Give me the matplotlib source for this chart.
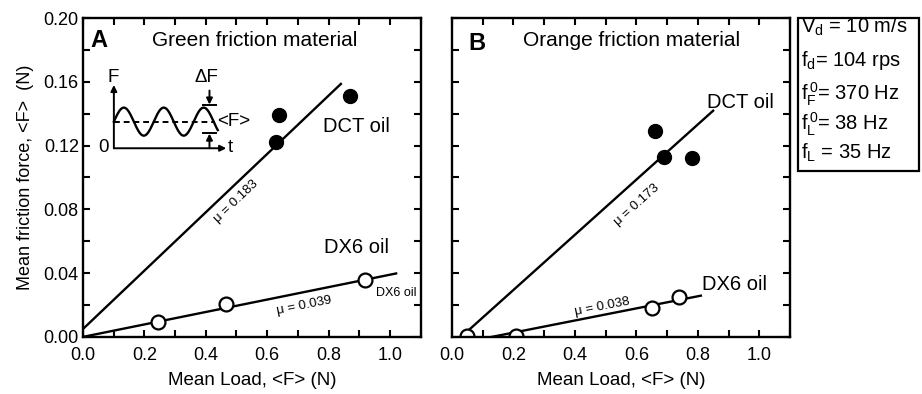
import numpy as np
import matplotlib
matplotlib.use("Agg")
import matplotlib.pyplot as plt
from matplotlib.ticker import MultipleLocator
from matplotlib.patches import Rectangle

plt.rcParams['font.family'] = ['Liberation Sans', 'DejaVu Sans']
plt.rcParams['mathtext.fontset'] = 'custom'
plt.rcParams['mathtext.rm'] = 'Liberation Sans'

# Panel A: green friction material
a_dct_load = [0.63, 0.64, 0.87]
a_dct_force = [0.122, 0.139, 0.151]
a_dx6_load = [0.245, 0.465, 0.92]
a_dx6_force = [0.0095, 0.0205, 0.0355]

# Panel B: orange friction material
b_dct_load = [0.66, 0.69, 0.78]
b_dct_force = [0.129, 0.113, 0.112]
b_dx6_load = [0.05, 0.21, 0.65, 0.74]
b_dx6_force = [0.0005, 0.0005, 0.018, 0.025]

# fitted friction coefficients: (mu, x-intercept, x start, x end)
a_dct_fit = (0.183, -0.027, 0.0, 0.84)
a_dx6_fit = (0.039, 0.0, 0.0, 1.02)
b_dct_fit = (0.173, 0.030, 0.05, 0.85)
b_dx6_fit = (0.038, 0.13, 0.13, 0.81)

conditions = [r"$\mathregular{V_d}$ = 10 m/s",
              r"$\mathregular{f_d}$= 104 rps",
              r"$\mathregular{f_F^{\,0}}$= 370 Hz",
              r"$\mathregular{f_L^{\,0}}$= 38 Hz",
              r"$\mathregular{f_L}$ = 35 Hz"]

fig = plt.figure(figsize=(9.22, 3.94), dpi=100)
axA = fig.add_axes([0.090, 0.145, 0.3663, 0.8093])
axB = fig.add_axes([0.4902, 0.145, 0.3666, 0.8093])


def style_axes(ax, show_ylabels):
    ax.set_xlim(0, 1.1)
    ax.set_ylim(0, 0.2)
    ax.xaxis.set_major_locator(MultipleLocator(0.2))
    ax.xaxis.set_minor_locator(MultipleLocator(0.1))
    ax.yaxis.set_major_locator(MultipleLocator(0.04))
    ax.yaxis.set_minor_locator(MultipleLocator(0.02))
    ax.set_xticks([0, 0.2, 0.4, 0.6, 0.8, 1.0])
    ax.set_xticklabels(["0.0", "0.2", "0.4", "0.6", "0.8", "1.0"])
    ax.tick_params(which='both', direction='in', top=True, right=True,
                   length=5, width=1.5, labelsize=13)
    ax.tick_params(axis='x', pad=7)
    ax.tick_params(axis='y', pad=3)
    if show_ylabels:
        ax.set_yticklabels(["%.2f" % v for v in ax.get_yticks()])
    else:
        ax.tick_params(axis='y', labelleft=False)
    for s in ax.spines.values():
        s.set_linewidth(1.7)
    ax.set_xlabel("Mean Load, <F> (N)", fontsize=13.5, labelpad=6)


def fit_line(ax, fit, label, lx, ly, rot):
    mu, x0, xs, xe = fit
    x = np.array([xs, xe])
    ax.plot(x, mu * (x - x0), color='black', lw=1.7)
    ax.text(lx, ly, "\u03bc = %s" % label, fontsize=9.5, rotation=rot,
            ha='center', va='center', rotation_mode='anchor')


style_axes(axA, True)
style_axes(axB, False)
axA.set_ylabel("Mean friction force, <F>  (N)", fontsize=13, labelpad=7)

# panel A
fit_line(axA, a_dct_fit, "0.183", 0.50, 0.085, 43.5)
fit_line(axA, a_dx6_fit, "0.039", 0.72, 0.0195, 11.4)
axA.plot(a_dct_load, a_dct_force, 'o', color='black', ms=10, clip_on=False)
axA.plot(a_dx6_load, a_dx6_force, 'o', mfc='white', mec='black', mew=1.6,
         ms=10, clip_on=False)
axA.text(0.025, 0.186, "A", fontsize=17, fontweight='bold', va='center')
axA.text(0.56, 0.186, "Green friction material", fontsize=15, ha='center', va='center')
axA.text(0.89, 0.132, "DCT oil", fontsize=14.5, ha='center', va='center')
axA.text(0.89, 0.056, "DX6 oil", fontsize=14.5, ha='center', va='center')
axA.text(1.02, 0.0275, "DX6 oil", fontsize=9, ha='center', va='center')

# inset sketch of the force signal
arrow = dict(arrowstyle='-|>', color='black', lw=1.4, mutation_scale=9,
             shrinkA=0, shrinkB=0)
axA.annotate("", xy=(0.1006, 0.158), xytext=(0.1006, 0.1183), arrowprops=arrow)
axA.annotate("", xy=(0.4666, 0.1183), xytext=(0.1006, 0.1183), arrowprops=arrow)
ts = np.linspace(0.1006, 0.439, 200)
axA.plot(ts, 0.135 + 0.0088 * np.sin(2 * np.pi * (ts - 0.1006) / 0.13),
         color='black', lw=1.7)
axA.plot([0.1006, 0.4286], [0.135, 0.135], color='black', lw=1.4, ls=(0, (3, 2)))
axA.plot([0.39, 0.434], [0.1455, 0.1455], color='black', lw=1.4)
axA.plot([0.39, 0.434], [0.1277, 0.1277], color='black', lw=1.4)
axA.annotate("", xy=(0.412, 0.1457), xytext=(0.412, 0.1545), arrowprops=arrow)
axA.annotate("", xy=(0.412, 0.1275), xytext=(0.412, 0.1183), arrowprops=arrow)
axA.text(0.402, 0.1625, "\u0394F", fontsize=13.5, ha='center', va='center')
axA.text(0.438, 0.135, "<F>", fontsize=13.5, ha='left', va='center')
axA.text(0.098, 0.1625, "F", fontsize=13.5, ha='center', va='center')
axA.text(0.068, 0.1185, "0", fontsize=13.5, ha='center', va='center')
axA.text(0.481, 0.1185, "t", fontsize=13.5, ha='center', va='center')

# panel B
fit_line(axB, b_dct_fit, "0.173", 0.60, 0.083, 41.8)
fit_line(axB, b_dx6_fit, "0.038", 0.49, 0.019, 11.0)
axB.plot(b_dct_load, b_dct_force, 'o', color='black', ms=10, clip_on=False)
axB.plot(b_dx6_load, b_dx6_force, 'o', mfc='white', mec='black', mew=1.6,
         ms=10)
axB.text(0.08, 0.184, "B", fontsize=17, fontweight='bold', ha='center', va='center')
axB.text(0.585, 0.186, "Orange friction material", fontsize=15, ha='center', va='center')
axB.text(0.94, 0.147, "DCT oil", fontsize=14.5, ha='center', va='center')
axB.text(0.92, 0.033, "DX6 oil", fontsize=14.5, ha='center', va='center')

# test conditions box
fig.patches.append(Rectangle((798 / 922, 1 - 171 / 394), 121 / 922, 153 / 394,
                             transform=fig.transFigure, fill=False,
                             edgecolor='black', lw=1.6))
for txt, ypx in zip(conditions, [27, 61, 94, 124, 153]):
    fig.text(801 / 922, 1 - ypx / 394, txt, fontsize=14.5, ha='left', va='center')

fig.savefig("out.png", dpi=100)
